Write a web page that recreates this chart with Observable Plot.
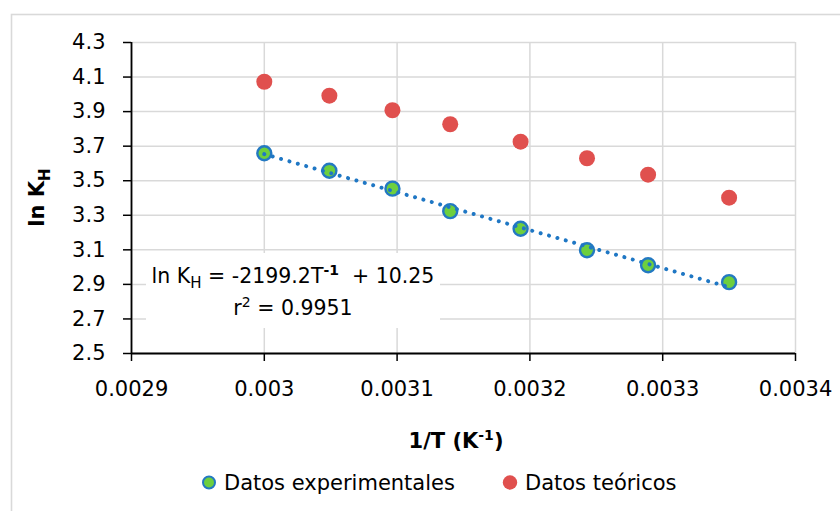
<!DOCTYPE html>
<html><head><meta charset="utf-8">
<script src="https://cdn.jsdelivr.net/npm/d3@7"></script>
<script src="https://cdn.jsdelivr.net/npm/@observablehq/plot@0.6"></script>
<style>
body{margin:0;background:#fff;overflow:hidden;}
#chart{position:relative;width:840px;height:511px;}
</style></head><body><div id="chart"></div>
<script>
// Data
const invT = [0.003, 0.003049, 0.0030965, 0.00314, 0.003193, 0.003243, 0.003289, 0.00335];
const lnKexp = [3.659, 3.558, 3.454, 3.324, 3.222, 3.098, 3.011, 2.913];
const lnKteo = [4.073, 3.992, 3.908, 3.827, 3.726, 3.630, 3.535, 3.402];
const xTicks = [0.0029, 0.003, 0.0031, 0.0032, 0.0033, 0.0034];
const yTicks = [2.5, 2.7, 2.9, 3.1, 3.3, 3.5, 3.7, 3.9, 4.1, 4.3];
const seriesNames = ["Datos experimentales", "Datos teóricos"];
const eqSlope = "-2199.2";
const eqIntercept = "10.25";
const eqR2 = "0.9951";

const exp = invT.map((x, i) => ({x, y: lnKexp[i]}));
const teo = invT.map((x, i) => ({x, y: lnKteo[i]}));

const FONT = "DejaVu Sans";
const GREEN = "#6dcf3e", BLUE = "#2379c2", RED = "#e0504e", GRID = "#d9d9d9";
const xFmt = d => String(+d.toFixed(4));
const yFmt = d => d.toFixed(1);

const plot = Plot.plot({
  width: 840, height: 511,
  marginTop: 42, marginLeft: 131, marginRight: 45, marginBottom: 158,
  style: {fontFamily: FONT, fontSize: "21px", color: "#000", background: "transparent"},
  x: {domain: [0.0029, 0.0034]},
  y: {domain: [2.5, 4.3]},
  marks: [
    Plot.gridX(xTicks, {stroke: GRID, strokeOpacity: 1, strokeWidth: 1.5}),
    Plot.gridY(yTicks, {stroke: GRID, strokeOpacity: 1, strokeWidth: 1.5}),
    Plot.axisX({ticks: xTicks, tickFormat: xFmt, tickSize: 8, tickPadding: 20, label: null, strokeWidth: 1.5}),
    Plot.axisY({ticks: yTicks, tickFormat: yFmt, tickSize: 8, tickPadding: 18, label: null, strokeWidth: 1.5}),
    Plot.ruleY([2.5], {stroke: "#000", strokeWidth: 1.8}),
    Plot.ruleX([0.0029], {stroke: "#000", strokeWidth: 1.8}),
    Plot.dot(teo, {x: "x", y: "y", r: 8, fill: RED, stroke: null}),
    Plot.dot(exp, {x: "x", y: "y", r: 7, fill: GREEN, stroke: BLUE, strokeWidth: 2.4}),
    Plot.linearRegressionY(exp, {x: "x", y: "y", ci: 0, stroke: "#1f77c4", strokeWidth: 4,
      strokeDasharray: "0.01 8.7", strokeLinecap: "round"})
  ]
});
document.getElementById("chart").appendChild(plot);

const svg = d3.select(plot);
// outer chart frame
svg.insert("rect", ":first-child")
  .attr("x", 11.5).attr("y", 14.5).attr("width", 1000).attr("height", 1000)
  .attr("fill", "#fff").attr("stroke", GRID).attr("stroke-width", 1.6);

// equation box
svg.append("rect").attr("x", 146).attr("y", 253).attr("width", 294).attr("height", 75).attr("fill", "#fff");
const eq1 = svg.append("text").attr("x", 293).attr("y", 283).attr("text-anchor", "middle")
  .attr("font-family", FONT).attr("font-size", 20.5).attr("fill", "#000");
eq1.append("tspan").text("ln K");
eq1.append("tspan").attr("font-size", 15).attr("dy", 5).text("H");
eq1.append("tspan").attr("dy", -5).text(" = " + eqSlope + "T");
eq1.append("tspan").attr("font-size", 14).attr("font-weight", "bold").attr("dy", -8).text("-1");
eq1.append("tspan").attr("dy", 8).text("  + " + eqIntercept);
const eq2 = svg.append("text").attr("x", 293).attr("y", 315).attr("text-anchor", "middle")
  .attr("font-family", FONT).attr("font-size", 20.5).attr("fill", "#000");
eq2.append("tspan").text("r");
eq2.append("tspan").attr("font-size", 14).attr("dy", -8).text("2");
eq2.append("tspan").attr("dy", 8).text(" = " + eqR2);

// y axis title
const yt = svg.append("text").attr("transform", "translate(44,197.5) rotate(-90)")
  .attr("text-anchor", "middle").attr("font-family", FONT).attr("font-size", 21)
  .attr("font-weight", "bold").attr("fill", "#000");
yt.append("tspan").text("ln K");
yt.append("tspan").attr("font-size", 15).attr("dy", 6).text("H");

// x axis title
const xt = svg.append("text").attr("x", 456).attr("y", 448)
  .attr("text-anchor", "middle").attr("font-family", FONT).attr("font-size", 21)
  .attr("font-weight", "bold").attr("fill", "#000");
xt.append("tspan").text("1/T (K");
xt.append("tspan").attr("font-size", 14).attr("dy", -8).text("-1");
xt.append("tspan").attr("dy", 8).text(")");

// legend
const leg = [
  {cx: 209, tx: 224, fill: GREEN, stroke: BLUE, name: seriesNames[0]},
  {cx: 510, tx: 525, fill: RED, stroke: null, name: seriesNames[1]}
];
leg.forEach(l => {
  svg.append("circle").attr("cx", l.cx).attr("cy", 482.5).attr("r", l.stroke ? 6 : 7.2)
    .attr("fill", l.fill).attr("stroke", l.stroke || "none").attr("stroke-width", 2);
  svg.append("text").attr("x", l.tx).attr("y", 489.5).attr("text-anchor", "start")
    .attr("font-family", FONT).attr("font-size", 21).attr("fill", "#000").text(l.name);
});
</script></body></html>
